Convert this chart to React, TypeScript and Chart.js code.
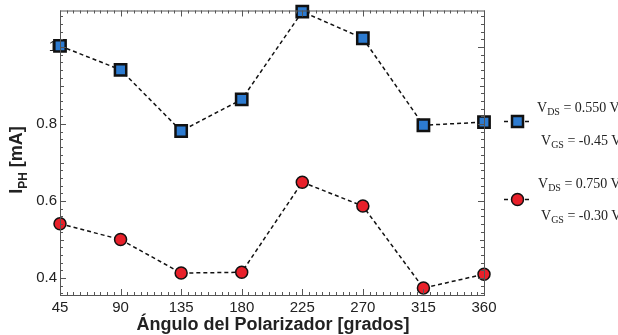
import React, { useEffect, useRef } from "react";
import { Chart, registerables } from "chart.js";
Chart.register(...registerables);

const angles = [45, 90, 135, 180, 225, 270, 315, 360];
const seriesA = [1.003, 0.941, 0.782, 0.864, 1.092, 1.023, 0.797, 0.805];
const seriesB = [0.541, 0.5, 0.413, 0.415, 0.649, 0.587, 0.374, 0.41];
const xTicks = [45, 90, 135, 180, 225, 270, 315, 360];
const yTicks = [0.4, 0.6, 0.8, 1.0];

const framePlugin = {
  id: "frame",
  afterDraw(chart: any) {
    const { ctx, chartArea: a, scales } = chart;
    const xs = scales.x, ys = scales.y;
    ctx.save();
    ctx.strokeStyle = "#555";
    ctx.lineWidth = 1;
    ctx.strokeRect(a.left + 0.5, a.top + 0.5, a.right - a.left, a.bottom - a.top);
    ctx.beginPath();
    for (let v = 45; v <= 360; v += 5) {
      const px = Math.round(xs.getPixelForValue(v)) + 0.5;
      const len = v % 45 === 0 ? 6 : 3;
      ctx.moveTo(px, a.bottom); ctx.lineTo(px, a.bottom - len);
      ctx.moveTo(px, a.top); ctx.lineTo(px, a.top + len);
    }
    for (let i = 18; i <= 55; i++) {
      const v = i * 0.02;
      const py = Math.round(ys.getPixelForValue(v)) + 0.5;
      if (py < a.top || py > a.bottom) continue;
      const len = i % 10 === 0 ? 6 : i % 5 === 0 ? 4 : 3;
      ctx.moveTo(a.left, py); ctx.lineTo(a.left + len, py);
      ctx.moveTo(a.right, py); ctx.lineTo(a.right - len, py);
    }
    ctx.stroke();
    // axis titles
    ctx.fillStyle = "#222";
    ctx.textBaseline = "alphabetic";
    ctx.font = "bold 18px 'Liberation Sans', Arial, sans-serif";
    ctx.textAlign = "center";
    ctx.fillText("Ángulo del Polarizador [grados]", (a.left + a.right) / 2 + 1, 330);
    ctx.save();
    ctx.translate(22, 160);
    ctx.rotate(-Math.PI / 2);
    ctx.textAlign = "left";
    const f1 = "bold 18px 'Liberation Sans', Arial, sans-serif";
    const f2 = "bold 12px 'Liberation Sans', Arial, sans-serif";
    ctx.font = f1;
    const wI = ctx.measureText("I").width;
    ctx.font = f2;
    const wPH = ctx.measureText("PH").width;
    ctx.font = f1;
    const wR = ctx.measureText(" [mA]").width;
    const x0 = -(wI + wPH + wR) / 2;
    ctx.fillText("I", x0, 0);
    ctx.font = f2;
    ctx.fillText("PH", x0 + wI, 5);
    ctx.font = f1;
    ctx.fillText(" [mA]", x0 + wI + wPH, 0);
    ctx.restore();
    ctx.restore();
  },
};

function LegendText({ top, left, sub, val }: { top: number; left: number; sub: string; val: string }) {
  return (
    <div style={{ position: "absolute", left, top, fontFamily: "'Liberation Serif', 'Times New Roman', serif", fontSize: 14, color: "#222", whiteSpace: "nowrap", lineHeight: "18px" }}>
      V<sub style={{ fontSize: 10, verticalAlign: "-3px" }}>{sub}</sub> = {val}
    </div>
  );
}

export default function App() {
  const ref = useRef<HTMLCanvasElement>(null);
  const legA = useRef<HTMLCanvasElement>(null);
  const legB = useRef<HTMLCanvasElement>(null);
  useEffect(() => {
    document.body.style.margin = "0";
    const tickFont = { size: 15, family: "'Liberation Sans', Arial, sans-serif" };
    const chart = new Chart(ref.current!, {
      type: "line",
      data: {
        labels: angles,
        datasets: [
          {
            label: "A",
            data: angles.map((x, i) => ({ x, y: seriesA[i] })),
            borderColor: "#111",
            borderWidth: 1.5,
            borderDash: [4, 3],
            pointStyle: "rect",
            pointRadius: 8,
            pointBackgroundColor: "#2d7bd0",
            pointBorderColor: "#111",
            pointBorderWidth: 2.5,
            clip: false,
          },
          {
            label: "B",
            data: angles.map((x, i) => ({ x, y: seriesB[i] })),
            borderColor: "#111",
            borderWidth: 1.5,
            borderDash: [4, 3],
            pointStyle: "circle",
            pointRadius: 6,
            pointBackgroundColor: "#e8202a",
            pointBorderColor: "#111",
            pointBorderWidth: 1.5,
            clip: false,
          },
        ],
      },
      options: {
        animation: false,
        responsive: false,
        layout: { padding: { top: 7, right: 134, left: 0, bottom: 0 } },
        plugins: { legend: { display: false }, tooltip: { enabled: false } },
        scales: {
          x: {
            type: "linear",
            min: 45,
            max: 360,
            afterBuildTicks: (s: any) => { s.ticks = xTicks.map((v) => ({ value: v })); },
            afterFit: (s: any) => { s.height = 40; s.paddingLeft = 0; s.paddingRight = 0; },
            grid: { display: false, drawTicks: false },
            border: { display: false },
            ticks: { color: "#222", font: tickFont, padding: 4, maxRotation: 0 },
          },
          y: {
            type: "linear",
            min: 0.356,
            max: 1.095,
            afterBuildTicks: (s: any) => { s.ticks = yTicks.map((v) => ({ value: v })); },
            afterFit: (s: any) => { s.width = 60; s.paddingTop = 0; s.paddingBottom = 0; },
            grid: { display: false, drawTicks: false },
            border: { display: false },
            ticks: { color: "#222", font: tickFont, padding: 3, callback: (v: any) => String(Number(v)) },
          },
        },
      },
      plugins: [framePlugin],
    });
    const drawLeg = (c: HTMLCanvasElement, square: boolean, fill: string) => {
      const ctx = c.getContext("2d")!;
      ctx.clearRect(0, 0, c.width, c.height);
      ctx.strokeStyle = "#111";
      ctx.lineWidth = 1.5;
      ctx.setLineDash([4, 3]);
      ctx.beginPath(); ctx.moveTo(1, 10.5); ctx.lineTo(27, 10.5); ctx.stroke();
      ctx.setLineDash([]);
      ctx.fillStyle = fill;
      if (square) {
        ctx.lineWidth = 2.5;
        ctx.fillRect(9, 5, 11, 11); ctx.strokeRect(9, 5, 11, 11);
      } else {
        ctx.lineWidth = 1.5;
        ctx.beginPath(); ctx.arc(14.5, 10.5, 6, 0, Math.PI * 2); ctx.fill(); ctx.stroke();
      }
    };
    drawLeg(legA.current!, true, "#2d7bd0");
    drawLeg(legB.current!, false, "#e8202a");
    return () => chart.destroy();
  }, []);
  return (
    <div style={{ position: "relative", width: 618, height: 335, background: "#fff", overflow: "hidden" }}>
      <canvas ref={ref} width={618} height={335} style={{ display: "block" }} />
      <canvas ref={legA} width={30} height={21} style={{ position: "absolute", left: 503, top: 111 }} />
      <canvas ref={legB} width={30} height={21} style={{ position: "absolute", left: 503, top: 189 }} />
      <LegendText top={99} left={537} sub="DS" val="0.550 V" />
      <LegendText top={132} left={541} sub="GS" val="-0.45 V" />
      <LegendText top={175} left={538} sub="DS" val="0.750 V" />
      <LegendText top={207} left={541} sub="GS" val="-0.30 V" />
    </div>
  );
}
